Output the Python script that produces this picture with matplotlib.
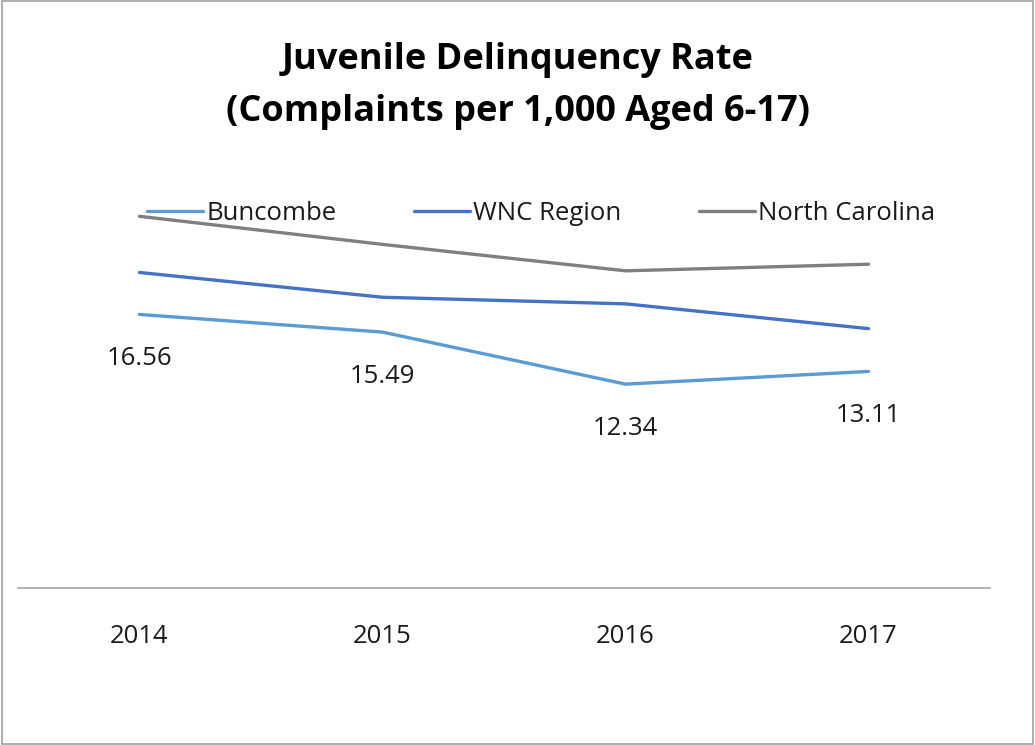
import matplotlib.pyplot as plt
from matplotlib.patches import Rectangle

# datos
years = ['2014', '2015', '2016', '2017']
buncombe = [16.56, 15.49, 12.34, 13.11]
wnc = [19.1, 17.6, 17.2, 15.7]
nc = [22.5, 20.8, 19.2, 19.6]

plt.rcParams['font.family'] = ['Open Sans', 'DejaVu Sans']

fig = plt.figure(figsize=(10.35, 7.45), dpi=100)
ax = fig.add_axes([18/1035, 1-588/745, 972/1035, (588-175)/745])

x = range(len(years))
ax.plot(x, buncombe, color='#5B9BD5', lw=2.4, label='Buncombe', solid_capstyle='round')
ax.plot(x, wnc, color='#4472C4', lw=2.4, label='WNC Region', solid_capstyle='round')
ax.plot(x, nc, color='#7F7F7F', lw=2.4, label='North Carolina', solid_capstyle='round')

# etiquetas de Buncombe
for i, v in enumerate(buncombe):
    ax.annotate(f'{v:.2f}', (i, v), xytext=(0, -44), textcoords='offset pixels',
                ha='center', va='center', fontsize=18.5, color='#1a1a1a')

ax.set_xlim(-0.5, 3.5)
ax.set_ylim(0, 25)
ax.set_xticks(list(x))
ax.set_xticklabels(years, fontsize=18.5, color='#1a1a1a')
ax.tick_params(axis='x', length=0, pad=26)
ax.set_yticks([])
for s in ['top', 'right', 'left']:
    ax.spines[s].set_visible(False)
ax.spines['bottom'].set_color('#A6A6A6')
ax.spines['bottom'].set_linewidth(1.2)

leg = fig.legend(loc='center', bbox_to_anchor=(541/1035, 1-213/745), ncol=3,
                 frameon=False, fontsize=18.5, handlelength=2.2, handletextpad=0.12,
                 columnspacing=3.0)
for t in leg.get_texts():
    t.set_color('#1a1a1a')

fig.text(0.5, 1-60/745, 'Juvenile Delinquency Rate', ha='center', va='center',
         fontsize=26, fontweight='bold', color='black')
fig.text(0.5, 1-112/745, '(Complaints per 1,000 Aged 6-17)', ha='center', va='center',
         fontsize=26, fontweight='bold', color='black')

fig.patches.append(Rectangle((0.002, 0.002), 0.996, 0.996, transform=fig.transFigure,
                             fill=False, edgecolor='#A0A0A0', lw=1.2))

fig.savefig('out.png', dpi=100)
